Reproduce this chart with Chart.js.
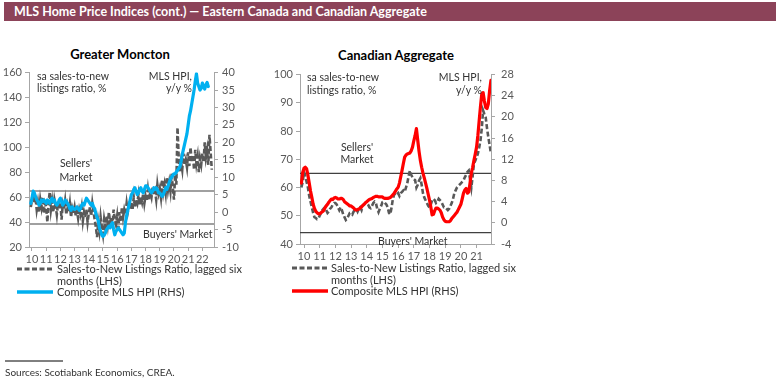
<!DOCTYPE html>
<html><head><meta charset="utf-8">
<script src="https://cdn.jsdelivr.net/npm/chart.js@4.4.0/dist/chart.umd.min.js"></script>
<style>
body{margin:0;width:779px;height:385px;background:#fff;position:relative;overflow:hidden;font-family:Lato,"Open Sans",sans-serif;}
.abs{position:absolute;white-space:nowrap;}
#banner{left:4px;top:2px;width:772px;height:19px;background:#8C4359;}
#bannerText{left:14px;top:2px;line-height:19px;color:#fff;font-weight:bold;font-size:12.5px;}
.ctitle{font-weight:bold;font-size:13px;color:#000;line-height:16px;transform:translateX(-50%);}
.note{font-size:10.5px;color:#333;}
.leg{font-size:11px;color:#333;line-height:11.5px;}
canvas{position:absolute;}
svg{position:absolute;left:0;top:0;}
</style></head><body>
<div id="banner" class="abs"></div>
<div id="bannerText" class="abs">MLS Home Price Indices (cont.) — Eastern Canada and Canadian Aggregate</div>

<div class="abs ctitle" style="left:120px;top:46px;">Greater Moncton</div>
<div class="abs ctitle" style="left:396px;top:47px;">Canadian Aggregate</div>

<canvas id="c1" width="250" height="210" style="left:0;top:62px;width:250px;height:210px;"></canvas>
<canvas id="c2" width="250" height="210" style="left:270px;top:62px;width:250px;height:210px;"></canvas>

<div class="abs note" style="left:37px;top:70px;line-height:12px;">sa sales-to-new<br>listings ratio, %</div>
<div class="abs note" style="right:587px;top:70px;line-height:12px;text-align:right;">MLS HPI,<br>y/y %</div>
<div class="abs note" style="left:76px;top:156px;line-height:14px;text-align:center;transform:translateX(-50%);">Sellers'<br>Market</div>
<div class="abs note" style="left:143px;top:228px;line-height:12px;">Buyers' Market</div>

<div class="abs note" style="left:307px;top:71px;line-height:13px;">sa sales-to-new<br>listings ratio, %</div>
<div class="abs note" style="right:297px;top:71px;line-height:13px;text-align:right;">MLS HPI,<br>y/y %</div>
<div class="abs note" style="left:357px;top:141px;line-height:12px;text-align:center;transform:translateX(-50%);">Sellers'<br>Market</div>
<div class="abs note" style="left:378px;top:235px;line-height:12px;">Buyers' Market</div>

<svg width="779" height="385">
  <line x1="17" y1="269" x2="53" y2="269" stroke="#595959" stroke-width="3" stroke-dasharray="5,2.5"/>
  <line x1="17" y1="292" x2="53" y2="292" stroke="#00B0F0" stroke-width="3.5"/>
  <line x1="292" y1="268" x2="328" y2="268" stroke="#595959" stroke-width="3" stroke-dasharray="5,2.5"/>
  <line x1="292" y1="291" x2="328" y2="291" stroke="#FF0000" stroke-width="3.5"/>
  <line x1="5" y1="361" x2="63" y2="361" stroke="#000" stroke-width="1"/>
</svg>
<div class="abs leg" style="left:57px;top:263px;">Sales-to-New Listings Ratio, lagged six<br>months (LHS)</div>
<div class="abs leg" style="left:57px;top:286px;">Composite MLS HPI (RHS)</div>
<div class="abs leg" style="left:331px;top:262px;">Sales-to-New Listings Ratio, lagged six<br>months (LHS)</div>
<div class="abs leg" style="left:331px;top:285px;">Composite MLS HPI (RHS)</div>
<div class="abs" style="left:5px;top:366px;font-size:10px;color:#333;">Sources: Scotiabank Economics, CREA.</div>

<script>
// ---------- Greater Moncton (monthly, from Dec 2009) ----------
const mcRatioStart = [2009, 12];
const mcRatio = [52,
 58,62,55,60,50,56,48,58,52,60,47,55,
 52,40,56,64,50,57,48,58,53,46,55,50,
 56,42,54,50,57,46,53,48,55,44,51,47,
 52,45,49,43,50,46,52,41,48,44,50,40,
 47,52,45,55,48,42,36,28,40,33,44,36,
 30,42,36,45,38,48,40,44,36,50,42,38,
 45,35,48,40,52,44,50,46,55,48,53,50,
 56,50,60,52,58,55,62,54,60,56,63,55,
 61,57,66,58,64,60,68,62,65,58,70,63,
 67,60,74,64,70,63,76,66,72,65,79,68,
 58,78,70,116,92,80,88,82,95,86,90,84,
 96,85,100,88,94,82,98,87,93,80,91,86,
 95,88,104,92,98,86,110,96,82];
const mcHpiStart = [2009, 12];
const mcHpi = [2.5,
 4.0,6.0,5.5,4.5,3.5,3.0,2.0,2.5,3.5,3.0,3.5,3.0,
 2.5,3.5,3.0,2.5,3.5,4.0,3.0,3.5,2.5,2.0,2.5,3.5,
 4.0,3.0,2.0,2.5,3.5,3.0,2.5,2.0,1.0,0.5,1.5,1.0,
 0.8,1.0,1.5,1.0,0.5,1.0,2.0,2.5,2.0,3.0,4.0,3.5,
 3.0,2.5,2.0,2.5,1.5,1.0,-0.5,-1.5,-2.5,-4.5,-5.5,-6.5,
 -7.0,-6.5,-6.0,-5.0,-4.5,-4.0,-4.5,-3.5,-3.0,-5.0,-6.5,-5.5,
 -5.0,-4.5,-5.0,-5.5,-6.0,-6.5,-6.0,-3.0,-1.0,0.5,2.0,3.5,
 5.0,5.5,6.5,7.0,6.0,5.0,5.5,6.5,7.0,6.0,5.5,6.5,
 7.5,7.5,7.0,6.5,6.0,5.5,6.0,7.0,6.5,7.0,6.5,5.5,
 5.5,5.0,4.5,5.0,6.0,7.0,6.5,7.5,8.5,9.5,10.0,10.5,
 11.0,11.0,11.5,12.0,12.5,13.0,14.5,16.5,18.0,19.5,21.0,22.5,
 25.0,27.5,29.0,31.0,33.0,35.0,37.5,39.7,37.0,36.0,35.0,35.5,
 37.0,36.0,35.3,36.5,37.2,36.0];
const mcThresholds = [65, 38.5];   // sellers' / buyers' market lines (LHS)
const mcLeftTicks = [20, 160, 20];  // min, max, step
const mcRightTicks = [-10, 40, 5];

// ---------- Canadian Aggregate (monthly, from Nov 2009) ----------
const caRatioStart = [2009, 11];
const caRatio = [60,62,
 65.4,64,62,60,57,55,53,51,49.5,49.2,48.8,49,
 50,51,52,52.5,53,52,51,51.5,52.5,53,54,54.5,
 54.5,54,53,52,53,52,50.5,49.5,48.5,49,50,51,
 51,50.5,51.5,52,52.5,51.5,52.5,53,52,53.5,54,54.5,
 54.5,54,53,52.7,53.5,54.5,55,54.5,52.5,51.3,52.5,53.5,
 54.8,55,54.5,54,53,51,50.5,53,56,57.5,58,57.5,
 58,57,58,58.5,59,58.5,60,61.5,64,66,64.5,63.6,
 63,62.6,60,61,62.5,63.3,61,58,56.5,55.5,54.5,53.5,
 53,54,55.5,56,55.5,54.5,55,56,55.5,55,54,53,
 53,52.5,52,52.5,53.5,54.5,56,58,59,60,60.5,61,
 61.5,62,62.5,63.6,64.5,65.5,66,63,60,64,68.6,69.5,
 70.7,72,74.2,76.7,81,87.3,86,84.8,81,77.8,75,72];
const caHpiStart = [2009, 11];
const caHpi = [7.5,9.5,
 10.3,10.5,10.2,9.0,7.5,6.0,4.8,3.5,2.7,2.2,1.9,1.7,
 1.7,1.9,2.1,2.3,2.8,3.2,3.5,3.9,4.2,4.5,4.4,4.7,
 4.8,4.7,4.5,4.5,4.6,4.6,4.4,4.0,3.8,3.6,3.4,3.2,
 3.2,3.0,2.8,2.5,2.4,2.5,2.6,2.8,3.0,3.3,3.5,3.8,
 4.0,4.2,4.4,4.5,4.6,4.8,4.9,5.0,5.0,4.9,4.9,4.9,
 4.9,4.7,4.6,4.6,4.6,4.7,4.8,5.0,5.3,5.6,6.0,6.4,
 6.7,7.5,8.7,9.9,11.2,12.4,12.8,13.0,13.1,13.2,13.6,14.3,
 15.5,16.5,17.8,15.6,13.5,11.8,10.5,9.4,8.5,7.5,6.5,5.4,
 4.3,3.0,1.5,1.6,2.3,2.8,2.8,2.6,2.4,1.9,1.1,0.6,
 0.3,0.2,0.2,0.2,0.4,0.8,1.1,1.4,1.7,2.0,2.5,3.0,
 3.5,4.5,5.6,6.2,6.5,5.6,5.8,7.5,9.4,10.5,11.8,13.0,
 14.3,16.5,19.3,22.0,24.4,24.6,23.0,21.8,21.6,22.5,25.0,26.9];
const caThresholds = [65, 44];
const caLeftTicks = [40, 100, 10];
const caRightTicks = [-4, 28, 4];

// ---------- helpers ----------
function monthly(start, values){
  return values.map((v,i)=>({x: start[0] + (start[1]-1+i)/12, y: v}));
}
const FONT = {family:'Lato, "Open Sans", sans-serif', size:11};
const TICKC = '#595959';

function build(id, o){
  const hLine = (v)=>({data:[{x:o.xMin,y:v},{x:o.xMax,y:v}], yAxisID:'yL', borderColor:o.refColor,
      borderWidth:o.refWidth, pointRadius:0});
  new Chart(document.getElementById(id), {
    type:'line',
    data:{datasets:[
      {data:monthly(o.hpiStart,o.hpi), yAxisID:'yR', borderColor:o.hpiColor, borderWidth:3.2,
       pointRadius:0, borderJoinStyle:'round', borderCapStyle:'round'},
      {data:monthly(o.ratioStart,o.ratio), yAxisID:'yL', borderColor:'#595959', borderWidth:2.6,
       borderDash:[5,2.5], pointRadius:0},
      hLine(o.thr[0]), hLine(o.thr[1])
    ]},
    options:{
      responsive:false, animation:false, devicePixelRatio:1,
      layout:{padding:{top:o.padTop,left:0,right:0,bottom:0}},
      plugins:{legend:{display:false}, tooltip:{enabled:false}},
      elements:{line:{tension:0}},
      scales:{
        x:{type:'linear', min:o.xMin, max:o.xMax, afterFit:s=>{s.height=o.xH;},
           ticks:{stepSize:1, includeBounds:false, autoSkip:false, maxRotation:0, color:TICKC, font:FONT, padding:2,
                  callback:v=>String(Math.round(v)%100).padStart(2,'0')},
           grid:{display:true, drawOnChartArea:false, drawTicks:true, tickLength:4, color:o.axisColor},
           border:{display:true, color:o.axisColor, width:1}},
        yL:{position:'left', min:o.left[0], max:o.left[1], afterFit:s=>{s.width=o.leftW;},
           ticks:{stepSize:o.left[2], color:TICKC, font:FONT, padding:3},
           grid:{display:true, drawOnChartArea:false, tickLength:4, color:o.axisColor},
           border:{display:true, color:o.axisColor, width:1}},
        yR:{position:'right', min:o.right[0], max:o.right[1], afterFit:s=>{s.width=o.rightW;},
           ticks:{stepSize:o.right[2], color:TICKC, font:FONT, padding:o.rPad},
           grid:{display:true, drawOnChartArea:false, tickLength:4, color:o.axisColor},
           border:{display:true, color:o.axisColor, width:1}}
      }
    }
  });
}

build('c1', {xMin:2009.79, xMax:2022.82, padTop:10, leftW:29, rightW:36, xH:25, rPad:4,
  ratioStart:mcRatioStart, ratio:mcRatio, hpiStart:mcHpiStart, hpi:mcHpi, hpiColor:'#00B0F0',
  thr:mcThresholds, left:mcLeftTicks, right:mcRightTicks, refColor:'#a0a0a0', refWidth:2, axisColor:'#a6a6a6'});
build('c2', {xMin:2009.745, xMax:2021.92, padTop:12, leftW:30, rightW:29, xH:28, rPad:6,
  ratioStart:caRatioStart, ratio:caRatio, hpiStart:caHpiStart, hpi:caHpi, hpiColor:'#FF0000',
  thr:caThresholds, left:caLeftTicks, right:caRightTicks, refColor:'#404040', refWidth:1.2, axisColor:'#a6a6a6'});
</script>
</body></html>
